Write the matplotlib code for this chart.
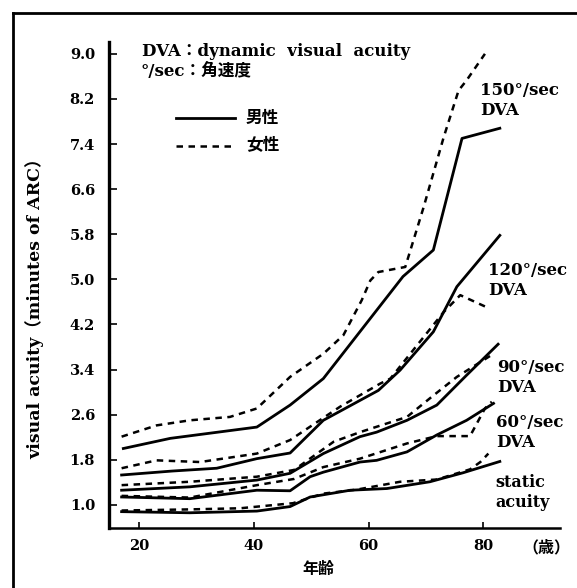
import matplotlib
matplotlib.use('Agg')
from matplotlib import pyplot as plt
from matplotlib.lines import Line2D

plt.rcParams['font.family'] = ['DejaVu Serif', 'Noto Sans CJK JP']
plt.rcParams['font.weight'] = 'bold'
plt.rcParams['axes.labelweight'] = 'bold'

# 150 deg/sec DVA
age_150_m = [17.2, 25.4, 40.5, 46.3, 52.1, 66.0, 71.3, 76.3, 82.9]
dva_150_m = [2.00, 2.18, 2.38, 2.77, 3.24, 5.05, 5.52, 7.50, 7.68]
age_150_f = [16.9, 23.0, 28.8, 35.8, 40.5, 46.3, 52.1, 55.6, 58.8, 60.3, 61.7, 66.4, 69.6, 73.1, 75.7, 77.1, 80.3]
dva_150_f = [2.21, 2.41, 2.50, 2.56, 2.71, 3.27, 3.68, 4.01, 4.63, 4.98, 5.13, 5.22, 6.28, 7.52, 8.35, 8.53, 9.00]

# 120 deg/sec DVA
age_120_m = [16.9, 25.7, 33.5, 40.5, 46.3, 52.1, 61.7, 65.5, 71.3, 75.4, 82.9]
dva_120_m = [1.53, 1.60, 1.65, 1.82, 1.92, 2.50, 3.03, 3.39, 4.07, 4.87, 5.78]
age_120_f = [16.9, 23.0, 30.6, 40.5, 46.3, 55.0, 62.0, 63.8, 73.1, 76.0, 80.3]
dva_120_f = [1.65, 1.79, 1.76, 1.91, 2.15, 2.74, 3.15, 3.24, 4.42, 4.72, 4.52]

# 90 deg/sec DVA
age_90_m = [16.9, 28.8, 40.5, 46.3, 52.1, 58.5, 61.4, 66.7, 71.9, 77.1, 82.6]
dva_90_m = [1.26, 1.32, 1.44, 1.56, 1.91, 2.21, 2.29, 2.50, 2.77, 3.30, 3.85]
age_90_f = [16.9, 28.8, 40.5, 47.0, 53.9, 58.5, 66.7, 71.3, 75.4, 81.8]
dva_90_f = [1.35, 1.41, 1.50, 1.62, 2.12, 2.29, 2.56, 2.94, 3.27, 3.68]

# 60 deg/sec DVA
age_60_m = [16.9, 28.8, 40.5, 46.3, 49.8, 52.1, 58.5, 61.4, 66.7, 71.9, 77.1, 81.8]
dva_60_m = [1.14, 1.11, 1.26, 1.25, 1.50, 1.58, 1.76, 1.79, 1.94, 2.24, 2.50, 2.80]
age_60_f = [16.9, 28.8, 40.5, 47.0, 52.1, 58.5, 66.7, 71.9, 77.7, 80.3, 81.5]
dva_60_f = [1.16, 1.13, 1.35, 1.46, 1.67, 1.82, 2.09, 2.22, 2.22, 2.71, 2.83]

# static acuity
age_static_m = [16.9, 28.8, 40.5, 46.3, 49.8, 56.8, 63.2, 70.7, 76.5, 82.9]
static_m = [0.88, 0.86, 0.89, 0.97, 1.14, 1.26, 1.29, 1.41, 1.57, 1.77]
age_static_f = [16.9, 28.8, 37.6, 46.8, 52.1, 57.9, 65.5, 71.9, 77.7, 79.5, 80.9]
static_f = [0.90, 0.92, 0.94, 1.03, 1.20, 1.27, 1.41, 1.45, 1.63, 1.76, 1.91]

y_ticks = [1.0, 1.8, 2.6, 3.4, 4.2, 5.0, 5.8, 6.6, 7.4, 8.2, 9.0]
x_ticks = [20, 40, 60, 80]

W, H = 577, 588
fig = plt.figure(figsize=(W / 100, H / 100), dpi=100)
ax = fig.add_axes([109 / W, 1 - 528 / H, (560 - 109) / W, (528 - 42) / H])

male = dict(color='black', lw=2.0, linestyle='-')
female = dict(color='black', lw=1.8, linestyle=(0, (2.6, 2.2)))

ax.plot(age_150_m, dva_150_m, **male)
ax.plot(age_150_f, dva_150_f, **female)
ax.plot(age_120_m, dva_120_m, **male)
ax.plot(age_120_f, dva_120_f, **female)
ax.plot(age_90_m, dva_90_m, **male)
ax.plot(age_90_f, dva_90_f, **female)
ax.plot(age_60_m, dva_60_m, **male)
ax.plot(age_60_f, dva_60_f, **female)
ax.plot(age_static_m, static_m, **male)
ax.plot(age_static_f, static_f, **female)

ax.set_xlim(14.7, 93.4)
ax.set_ylim(0.59, 9.21)
ax.set_yticks(y_ticks)
ax.set_yticklabels(['%.1f' % v for v in y_ticks])
ax.set_xticks(x_ticks)

for side in ['top', 'right']:
    ax.spines[side].set_visible(False)
ax.spines['left'].set_linewidth(2.4)
ax.spines['bottom'].set_linewidth(1.8)
ax.tick_params(axis='y', direction='in', length=6, width=1.2, pad=10, labelsize=10.5)
ax.tick_params(axis='x', direction='in', length=4, width=1.2, pad=8, labelsize=10.5)

ax.set_ylabel('visual acuity（minutes of ARC）', fontsize=12.5)
ax.yaxis.set_label_coords(-0.143, 0.46)

# curve labels
lab = dict(fontsize=12, va='center', ha='left')
ax.text(79.5, 8.35, '150°/sec', **lab)
ax.text(79.5, 8.00, 'DVA', **lab)
ax.text(80.9, 5.16, '120°/sec', **lab)
ax.text(80.9, 4.81, 'DVA', **lab)
ax.text(82.4, 3.44, '90°/sec', **lab)
ax.text(82.4, 3.09, 'DVA', **lab)
ax.text(82.2, 2.47, '60°/sec', **lab)
ax.text(82.2, 2.11, 'DVA', **lab)
ax.text(82.1, 1.40, 'static', fontsize=11.5, va='center', ha='left')
ax.text(82.1, 1.05, 'acuity', fontsize=11.5, va='center', ha='left')

# notes and legend
fig.text(142 / W, 1 - 52 / H, 'DVA：dynamic  visual  acuity', fontsize=12, va='center')
fig.text(140 / W, 1 - 72 / H, '°/sec：角速度', fontsize=12, va='center')
fig.add_artist(Line2D([176 / W, 235 / W], [1 - 118 / H, 1 - 118 / H], transform=fig.transFigure, **male))
fig.add_artist(Line2D([176 / W, 235 / W], [1 - 146 / H, 1 - 146 / H], transform=fig.transFigure, **female))
fig.text(246 / W, 1 - 118 / H, '男性', fontsize=12, va='center')
fig.text(246 / W, 1 - 146 / H, '女性', fontsize=12, va='center')

fig.text(318 / W, 1 - 569 / H, '年齢', fontsize=11.5, va='center', ha='center')
fig.text(546 / W, 1 - 548 / H, '（歳）', fontsize=11.5, va='center', ha='center')

# outer frame (top and left)
fig.add_artist(Line2D([13 / W, 1], [1 - 13 / H, 1 - 13 / H], transform=fig.transFigure, color='black', lw=2))
fig.add_artist(Line2D([13 / W, 13 / W], [0, 1 - 13 / H], transform=fig.transFigure, color='black', lw=2))

fig.savefig('out.png', dpi=100)
